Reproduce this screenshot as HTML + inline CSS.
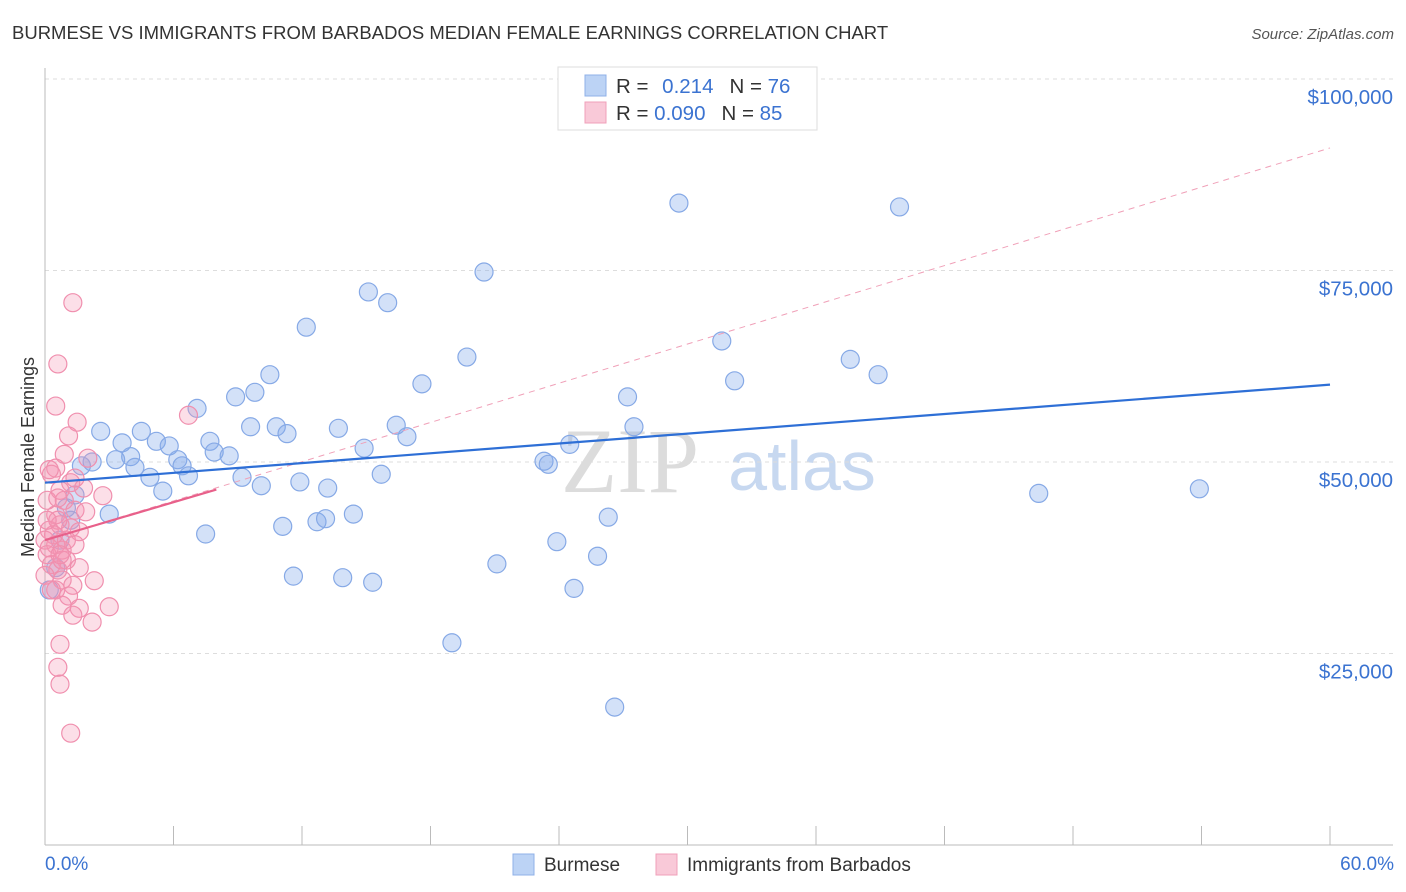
<!DOCTYPE html>
<html><head><meta charset="utf-8"><style>
body{margin:0;background:#fff;font-family:"Liberation Sans",sans-serif;}
svg{display:block}
</style></head><body>
<svg id="c" width="1406" height="892" xmlns="http://www.w3.org/2000/svg">
<text x="12" y="39" font-size="18.5" fill="#333">BURMESE VS IMMIGRANTS FROM BARBADOS MEDIAN FEMALE EARNINGS CORRELATION CHART</text>
<text x="1394" y="39" font-size="15" fill="#555" font-style="italic" text-anchor="end">Source: ZipAtlas.com</text>
<text x="630" y="492" font-size="92" fill="#dcdcdc" font-family="Liberation Serif,serif" text-anchor="middle">ZIP</text>
<text x="802" y="490" font-size="70" fill="#c7d8f0" text-anchor="middle">atlas</text>
<g id="grid"></g>
<g id="marks"></g>
<text transform="translate(34,457) rotate(-90)" font-size="18" fill="#333" text-anchor="middle">Median Female Earnings</text>
<text x="45" y="870" font-size="19" fill="#3b73d1">0.0%</text>
<text x="1394" y="870" font-size="19" fill="#3b73d1" text-anchor="end">60.0%</text>
<g>
<rect x="513" y="854" width="21" height="21" fill="#bcd3f5" stroke="#8fb0e8"/>
<text x="544" y="871" font-size="19" fill="#333">Burmese</text>
<rect x="656" y="854" width="21" height="21" fill="#f9c9d8" stroke="#f0a0ba"/>
<text x="687" y="871" font-size="19" fill="#333">Immigrants from Barbados</text>
</g>
<g>
<rect x="558" y="67" width="259" height="63" fill="#fff" stroke="#ddd"/>
<rect x="585" y="75" width="21" height="21" fill="#bcd3f5" stroke="#8fb0e8"/>
<rect x="585" y="102" width="21" height="21" fill="#f9c9d8" stroke="#f0a0ba"/>
<text x="616" y="93" font-size="20.5" fill="#333">R = <tspan fill="#3b73d1" dx="8">0.214</tspan><tspan dx="16" fill="#333">N = </tspan><tspan fill="#3b73d1">76</tspan></text>
<text x="616" y="120" font-size="20.5" fill="#333">R = <tspan fill="#3b73d1">0.090</tspan><tspan dx="16" fill="#333">N = </tspan><tspan fill="#3b73d1">85</tspan></text>
</g>
</svg>
<script>
const yTicks=[25000,50000,75000,100000];
const yTickLabels=["$25,000","$50,000","$75,000","$100,000"];
const xTicks=[0,6,12,18,24,30,36,42,48,54,60];
const blueX=[29.6,39.9,20.5,15.1,16.0,12.2,31.6,19.7,37.6,38.9,32.2,17.6,10.5,9.8,8.9,27.2,7.1,2.6,4.5,3.6,5.2,5.8,7.7,7.9,8.6,9.6,10.8,11.3,13.7,16.4,16.9,14.9,4.0,2.2,3.3,4.2,1.7,6.2,6.4,4.9,6.7,9.2,10.1,11.9,13.2,15.7,23.3,23.5,24.5,27.5,5.5,1.4,3.0,1.0,7.5,11.1,12.7,13.1,14.4,23.9,26.3,25.8,21.1,11.6,13.9,15.3,24.7,19.0,26.6,46.4,53.9,0.2,0.5,0.7,1.2];
const blueY=[83.8,83.3,74.8,72.2,70.8,67.6,65.8,63.7,63.4,61.4,60.6,60.2,61.4,59.1,58.5,58.5,57.0,54.0,54.0,52.5,52.7,52.1,52.7,51.3,50.8,54.6,54.6,53.7,54.4,54.8,53.3,51.8,50.7,50.0,50.3,49.3,49.5,50.3,49.5,48.0,48.2,48.0,46.9,47.4,46.6,48.4,50.1,49.7,52.3,54.6,46.2,45.7,43.2,44.0,40.6,41.6,42.2,42.6,43.2,39.6,42.8,37.7,36.7,35.1,34.9,34.3,33.5,26.4,18.0,45.9,46.5,33.3,36.2,39.8,42.4];
const pinkX=[1.3,0.6,0.5,1.5,1.1,0.9,2.0,0.5,0.3,1.2,0.7,1.8,2.7,0.9,1.4,0.5,0.7,0.2,1.2,1.6,0.0,0.5,0.8,0.1,1.0,0.3,0.6,1.6,0.0,0.8,1.3,2.3,0.5,1.1,0.8,1.6,3.0,1.3,2.2,0.7,0.6,0.7,1.2,6.7,0.2,0.1,0.6,1.0,0.4,0.2,0.8,1.4,0.7,0.1,1.9,0.3,1.4,0.6];
const pinkY=[70.8,62.8,57.3,55.2,53.4,51.0,50.5,49.2,48.4,47.3,46.3,46.6,45.6,45.0,43.7,43.1,41.8,41.1,41.4,40.9,39.8,39.2,38.5,37.9,37.2,36.6,35.9,36.2,35.2,34.6,33.9,34.5,33.3,32.5,31.3,30.9,31.1,30.0,29.1,26.2,23.2,21.0,14.6,56.1,49.0,45.0,42.4,39.8,40.5,38.8,37.2,39.2,37.9,42.4,43.5,33.3,47.9,45.3];
const blueFit=[47.3,60.1];
const pinkFit=[39.8,46.4];
const pinkFitEnd=8.0;
const pinkDash=[39.8,91.0];
const NS="http://www.w3.org/2000/svg";
const X=p=>45+p*1285/60;
const Y=v=>79+(100-v)*191.5/25;
const Yd=d=>Y(d/1000);
const grid=document.getElementById('grid'),marks=document.getElementById('marks');
function mk(tag,at,par){const e=document.createElementNS(NS,tag);for(const k in at)e.setAttribute(k,at[k]);par.appendChild(e);return e;}
yTicks.forEach((t,i)=>{
 const l=mk('line',{x1:45,x2:1393,y1:Yd(t),y2:Yd(t),stroke:'#ddd','stroke-dasharray':'4,4'},grid);
 
 
 const tx=mk('text',{x:1393,y:Yd(t)+25,'font-size':20.5,fill:'#3b73d1','text-anchor':'end'},grid);
 tx.textContent=yTickLabels[i];
 
 
});
const ax=mk('line',{x1:45,x2:45,y1:68,y2:845,stroke:'#bbb'},grid);


const bx=mk('line',{x1:45,x2:1393,y1:845,y2:845,stroke:'#bbb'},grid);


xTicks.forEach(t=>{
 const l=mk('line',{x1:X(t),x2:X(t),y1:826,y2:845,stroke:'#bbb'},grid);
 
 
});
blueX.forEach((x,i)=>{
 const c=mk('circle',{cx:X(x),cy:Y(blueY[i]),r:9,fill:'rgba(130,170,235,0.35)',stroke:'#86a9e6','stroke-width':1.2},marks);
 
 
});
pinkX.forEach((x,i)=>{
 const c=mk('circle',{cx:X(x),cy:Y(pinkY[i]),r:9,fill:'rgba(245,150,180,0.3)',stroke:'#f08fae','stroke-width':1.2},marks);
 
 
});
const d=mk('line',{x1:X(0),y1:Y(pinkDash[0]),x2:X(60),y2:Y(pinkDash[1]),stroke:'#f0a0b8','stroke-width':1,'stroke-dasharray':'6,5'},marks);


const b=mk('line',{x1:X(0),y1:Y(blueFit[0]),x2:X(60),y2:Y(blueFit[1]),stroke:'#2e6fd6','stroke-width':2.2},marks);


const p=mk('line',{x1:X(0),y1:Y(pinkFit[0]),x2:X(pinkFitEnd),y2:Y(pinkFit[1]),stroke:'#e8608a','stroke-width':2.2},marks);


</script>
</body></html>
